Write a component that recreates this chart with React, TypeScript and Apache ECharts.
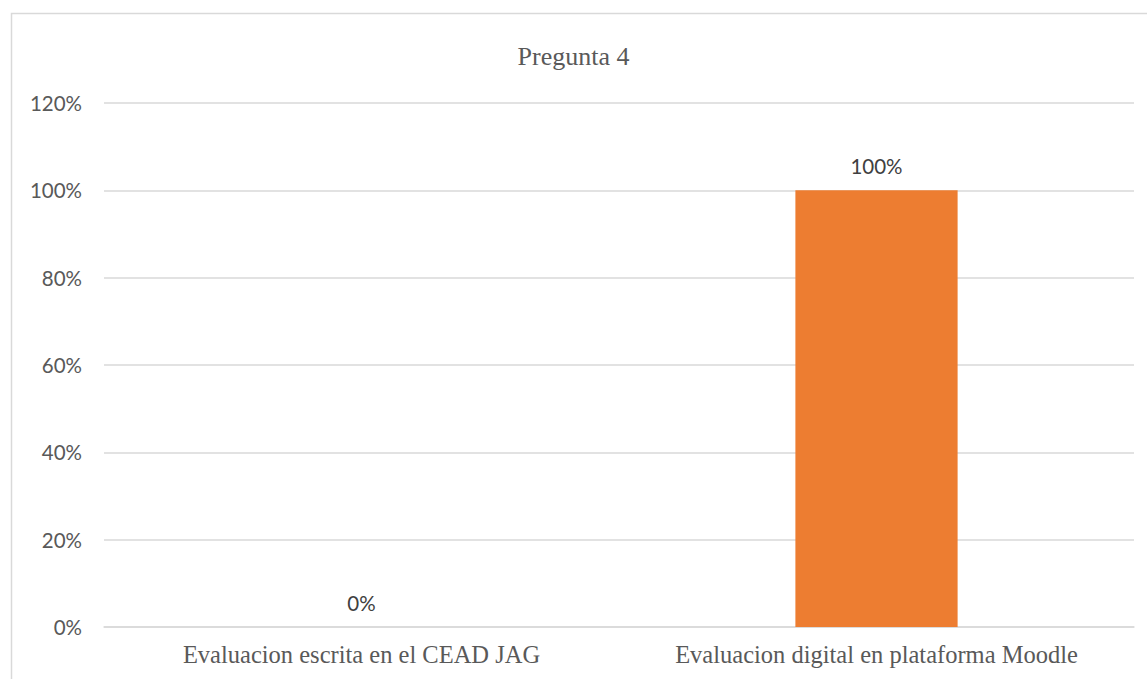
import React, { useEffect, useRef } from "react";
import * as echarts from "echarts";

const title = "Pregunta 4";
const categories = ["Evaluacion escrita en el CEAD JAG", "Evaluacion digital en plataforma Moodle"];
const values = [0, 100];
const yTicks = [0, 20, 40, 60, 80, 100, 120];

export default function App() {
  const ref = useRef<HTMLDivElement>(null);
  useEffect(() => {
    if (!ref.current) return;
    const chart = echarts.init(ref.current, null, { renderer: "svg" });
    chart.setOption({
      animation: false,
      backgroundColor: "#ffffff",
      title: {
        text: title,
        left: "center",
        top: 38,
        textStyle: {
          fontFamily: "Liberation Serif",
          fontSize: 26,
          fontWeight: "normal",
          color: "#595959",
        },
      },
      graphic: [
        {
          type: "rect",
          shape: { x: 11.5, y: 13.5, width: 1200, height: 800 },
          style: { fill: "none", stroke: "#d9d9d9", lineWidth: 1.5 },
          silent: true,
        },
      ],
      grid: { left: 104, right: 13, top: 103, bottom: 52, containLabel: false },
      xAxis: {
        type: "category",
        data: categories,
        axisLine: { show: true, lineStyle: { color: "#d9d9d9", width: 1.5 } },
        axisTick: { show: false },
        axisLabel: {
          interval: 0,
          hideOverlap: false,
          fontFamily: "Liberation Serif",
          fontSize: 24.5,
          color: "#595959",
          margin: 15,
        },
      },
      yAxis: {
        type: "value",
        min: yTicks[0],
        max: yTicks[yTicks.length - 1],
        interval: 20,
        axisLine: { show: false },
        axisTick: { show: false },
        splitLine: { lineStyle: { color: "#d9d9d9", width: 1.5 } },
        axisLabel: {
          fontFamily: "Lato",
          fontSize: 20.5,
          color: "#595959",
          margin: 22,
          formatter: (v: number) => v + "%",
        },
      },
      series: [
        {
          type: "bar",
          data: values,
          barWidth: "31.5%",
          itemStyle: { color: "#ed7d31" },
          label: {
            show: true,
            position: "top",
            distance: 14,
            fontFamily: "Lato",
            fontSize: 20.5,
            color: "#404040",
            formatter: (p: any) => p.value + "%",
          },
        },
      ],
    });
    return () => chart.dispose();
  }, []);
  return (
    <div
      ref={ref}
      style={{ position: "fixed", left: 0, top: 0, width: 1147, height: 679 }}
    />
  );
}
